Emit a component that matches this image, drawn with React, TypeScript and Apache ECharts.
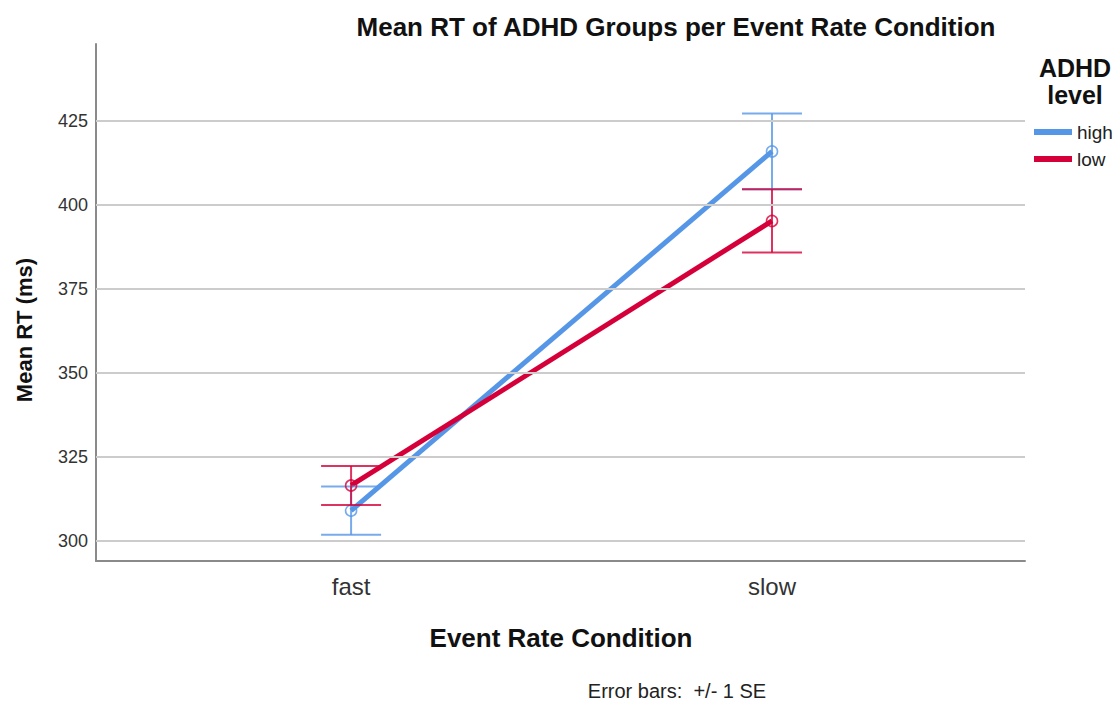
import React, { useEffect, useRef } from "react";
import * as echarts from "echarts";

// Event-rate conditions on the x axis (placed at 0 and 1 on a value axis)
const categories = ["fast", "slow"];
const groups = ["high", "low"];

// Mean reaction time (ms) and standard error per ADHD level
const highMean = [309.0, 416.0];
const highSE = [7.2, 11.3];
const lowMean = [316.5, 395.3];
const lowSE = [5.8, 9.4];

const yTicks = [300, 325, 350, 375, 400, 425];

const COLORS = { high: "#5596E6", low: "#D5003A" };
const FONT = "Liberation Sans, Arial, sans-serif";

const lineData = (means: number[]) => means.map((m, i) => [i, m]);
const errData = (means: number[], se: number[]) =>
  means.map((m, i) => [i, m - se[i], m + se[i], m]);

const errorBarSeries = (name: string, data: number[][], color: string) => ({
  type: "custom",
  name,
  z: 4,
  data,
  encode: { x: 0, y: [1, 2] },
  renderItem: (params: any, api: any) => {
    const x = api.value(0);
    const lo = api.coord([x, api.value(1)]);
    const hi = api.coord([x, api.value(2)]);
    const mid = api.coord([x, api.value(3)]);
    const half = 30;
    const style = { stroke: color, lineWidth: 2, opacity: 0.8 };
    return {
      type: "group",
      children: [
        { type: "line", shape: { x1: hi[0], y1: hi[1], x2: lo[0], y2: lo[1] }, style },
        { type: "line", shape: { x1: hi[0] - half, y1: hi[1], x2: hi[0] + half, y2: hi[1] }, style },
        { type: "line", shape: { x1: lo[0] - half, y1: lo[1], x2: lo[0] + half, y2: lo[1] }, style },
        {
          type: "circle",
          shape: { cx: mid[0], cy: mid[1], r: 5.5 },
          style: { fill: "none", stroke: color, lineWidth: 1.6, opacity: 0.8 },
        },
      ],
    };
  },
});

export default function App() {
  const ref = useRef<HTMLDivElement>(null);

  useEffect(() => {
    if (!ref.current) return;
    const chart = echarts.init(ref.current, undefined, { renderer: "svg" });
    chart.setOption({
      animation: false,
      backgroundColor: "#ffffff",
      grid: { left: 96, right: 93, top: 44, bottom: 141 },
      xAxis: {
        type: "value",
        min: -0.606,
        max: 1.601,
        axisLine: { onZero: false, lineStyle: { color: "#8a8a8a", width: 2 } },
        axisTick: { show: false },
        splitLine: { show: false },
        axisLabel: {
          customValues: categories.map((_, i) => i),
          formatter: (v: number) => categories[Math.round(v)] ?? "",
          fontFamily: FONT,
          fontSize: 24,
          color: "#333333",
          margin: 13,
        },
      },
      yAxis: {
        type: "value",
        min: 294,
        max: 448,
        axisLine: { show: true, onZero: false, lineStyle: { color: "#8a8a8a", width: 2 } },
        axisTick: { show: false },
        splitLine: { show: false },
        axisLabel: {
          customValues: yTicks,
          fontFamily: FONT,
          fontSize: 18,
          color: "#333333",
          margin: 8,
        },
      },
      legend: {
        data: groups,
        orient: "vertical",
        left: 1029,
        top: 117,
        icon: "rect",
        itemWidth: 38,
        itemHeight: 6,
        itemGap: 7,
        selectedMode: false,
        textStyle: { fontFamily: FONT, fontSize: 19, color: "#222222", lineHeight: 20 },
      },
      graphic: [
        {
          type: "text",
          x: 676,
          y: 27,
          style: {
            text: "Mean RT of ADHD Groups per Event Rate Condition",
            font: `bold 26px ${FONT}`,
            fill: "#111111",
            textAlign: "center",
            textVerticalAlign: "middle",
          },
        },
        {
          type: "text",
          x: 1075,
          y: 68,
          style: {
            text: "ADHD",
            font: `bold 25px ${FONT}`,
            fill: "#111111",
            textAlign: "center",
            textVerticalAlign: "middle",
          },
        },
        {
          type: "text",
          x: 1075,
          y: 95,
          style: {
            text: "level",
            font: `bold 25px ${FONT}`,
            fill: "#111111",
            textAlign: "center",
            textVerticalAlign: "middle",
          },
        },
        {
          type: "text",
          x: 561,
          y: 638,
          style: {
            text: "Event Rate Condition",
            font: `bold 26px ${FONT}`,
            fill: "#111111",
            textAlign: "center",
            textVerticalAlign: "middle",
          },
        },
        {
          type: "text",
          x: 24,
          y: 330,
          rotation: Math.PI / 2,
          style: {
            text: "Mean RT (ms)",
            font: `bold 22px ${FONT}`,
            fill: "#111111",
            textAlign: "center",
            textVerticalAlign: "middle",
          },
        },
        {
          type: "text",
          x: 677,
          y: 691,
          style: {
            text: "Error bars:  +/- 1 SE",
            font: `20px ${FONT}`,
            fill: "#222222",
            textAlign: "center",
            textVerticalAlign: "middle",
          },
        },
      ],
      series: [
        {
          type: "line",
          name: "gridlines",
          data: [],
          silent: true,
          markLine: {
            silent: true,
            symbol: "none",
            label: { show: false },
            lineStyle: { color: "#cccccc", width: 2, type: "solid" },
            data: yTicks.map((t) => ({ yAxis: t })),
          },
          z: 1,
        },
        {
          type: "line",
          name: "high",
          data: lineData(highMean),
          symbol: "none",
          color: COLORS.high,
          lineStyle: { color: COLORS.high, width: 5 },
          z: 3,
        },
        {
          type: "line",
          name: "low",
          data: lineData(lowMean),
          symbol: "none",
          color: COLORS.low,
          lineStyle: { color: COLORS.low, width: 5 },
          z: 3,
        },
        errorBarSeries("high SE", errData(highMean, highSE), COLORS.high),
        errorBarSeries("low SE", errData(lowMean, lowSE), COLORS.low),
      ],
    });
    return () => chart.dispose();
  }, []);

  return (
    <div
      ref={ref}
      style={{ position: "absolute", left: 0, top: 0, width: 1118, height: 702 }}
    />
  );
}
